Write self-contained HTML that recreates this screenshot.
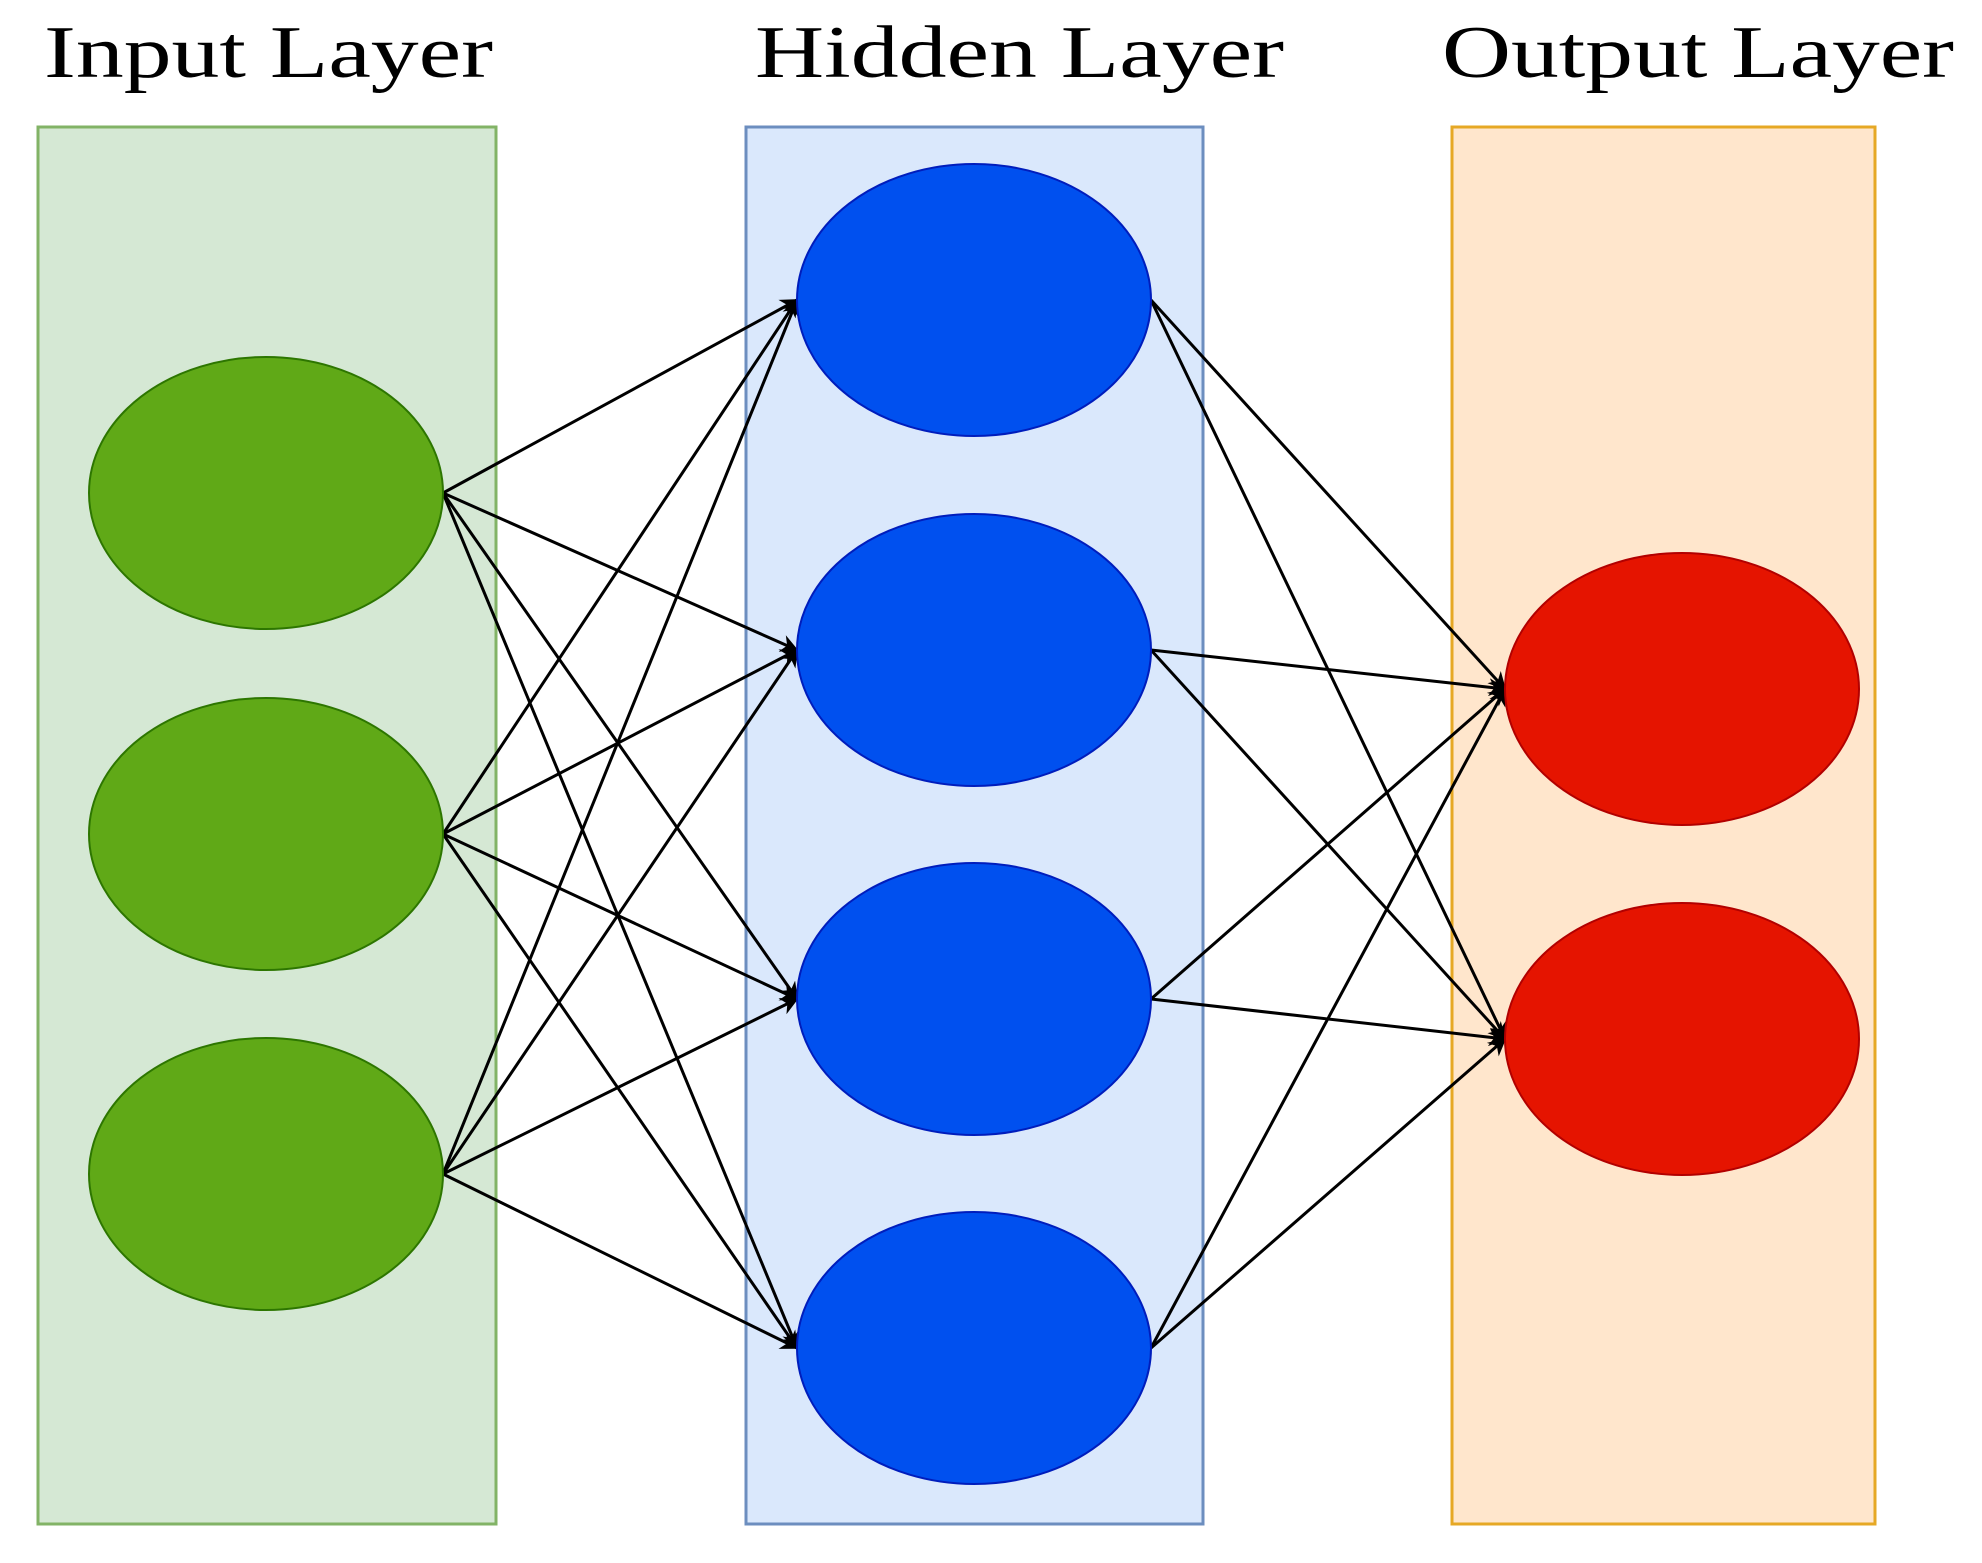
<!DOCTYPE html>
<html><head><meta charset="utf-8"><style>html,body{margin:0;padding:0;background:#fff}svg{display:block}</style></head>
<body>
<svg width="1982" height="1563" viewBox="0 0 1982 1563" xmlns="http://www.w3.org/2000/svg">
<defs>
<marker id="a" viewBox="0 0 10 10" refX="9" refY="5" markerWidth="20" markerHeight="18" markerUnits="userSpaceOnUse" orient="auto">
<path d="M0,0 L10,5 L0,10 L3,5 z" fill="#000"/>
</marker>
</defs>
<g font-family="Liberation Serif, serif" font-size="74" fill="#000">
<text x="44" y="77" textLength="449" lengthAdjust="spacingAndGlyphs">Input Layer</text>
<text x="755" y="77" textLength="529" lengthAdjust="spacingAndGlyphs">Hidden Layer</text>
<text x="1442" y="77" textLength="512" lengthAdjust="spacingAndGlyphs">Output Layer</text>
</g>
<rect x="38" y="127" width="458" height="1397" fill="#d5e8d4" stroke="#82b366" stroke-width="3"/>
<rect x="746" y="127" width="457" height="1397" fill="#dae8fc" stroke="#6c8ebf" stroke-width="3"/>
<rect x="1452" y="127" width="423" height="1397" fill="#ffe6cc" stroke="#e6a825" stroke-width="3"/>
<g stroke="#000" stroke-width="3" marker-end="url(#a)" fill="none">
<line x1="443" y1="493" x2="797" y2="300"/><line x1="443" y1="493" x2="797" y2="650"/><line x1="443" y1="493" x2="797" y2="999"/><line x1="443" y1="493" x2="797" y2="1348"/>
<line x1="443" y1="834" x2="797" y2="300"/><line x1="443" y1="834" x2="797" y2="650"/><line x1="443" y1="834" x2="797" y2="999"/><line x1="443" y1="834" x2="797" y2="1348"/>
<line x1="443" y1="1174" x2="797" y2="300"/><line x1="443" y1="1174" x2="797" y2="650"/><line x1="443" y1="1174" x2="797" y2="999"/><line x1="443" y1="1174" x2="797" y2="1348"/>
<line x1="1151" y1="300" x2="1505" y2="689"/><line x1="1151" y1="300" x2="1505" y2="1039"/>
<line x1="1151" y1="650" x2="1505" y2="689"/><line x1="1151" y1="650" x2="1505" y2="1039"/>
<line x1="1151" y1="999" x2="1505" y2="689"/><line x1="1151" y1="999" x2="1505" y2="1039"/>
<line x1="1151" y1="1348" x2="1505" y2="689"/><line x1="1151" y1="1348" x2="1505" y2="1039"/>
</g>
<g fill="#60a917" stroke="#2d7600" stroke-width="2">
<ellipse cx="266" cy="493" rx="177" ry="136"/><ellipse cx="266" cy="834" rx="177" ry="136"/><ellipse cx="266" cy="1174" rx="177" ry="136"/>
</g>
<g fill="#0050ef" stroke="#001dbc" stroke-width="2">
<ellipse cx="974" cy="300" rx="177" ry="136"/><ellipse cx="974" cy="650" rx="177" ry="136"/><ellipse cx="974" cy="999" rx="177" ry="136"/><ellipse cx="974" cy="1348" rx="177" ry="136"/>
</g>
<g fill="#e51400" stroke="#b20000" stroke-width="2">
<ellipse cx="1682" cy="689" rx="177" ry="136"/><ellipse cx="1682" cy="1039" rx="177" ry="136"/>
</g>
</svg>
</body></html>
